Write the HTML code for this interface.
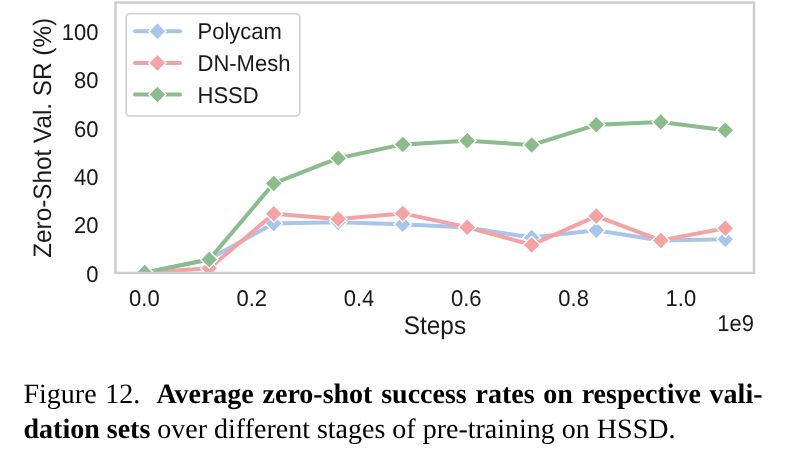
<!DOCTYPE html>
<html><head><meta charset="utf-8"><style>
html,body{margin:0;padding:0;background:#fff;width:787px;height:450px;overflow:hidden}
body{will-change:transform}
svg{display:block;position:absolute;left:0;top:0}
.s{font-family:"Liberation Sans",sans-serif;fill:#1a1a1a;text-rendering:geometricPrecision}
.cap{position:absolute;left:23.5px;top:377px;width:739px;font-family:"Liberation Serif",serif;font-size:28px;line-height:35px;color:#000;text-align:justify;text-align-last:left;margin:0;text-rendering:geometricPrecision}
</style></head><body>
<svg width="787" height="450" viewBox="0 0 787 450">
<defs><clipPath id="ax"><rect x="115.5" y="2.5" width="638.5" height="270.4"/></clipPath></defs>
<g clip-path="url(#ax)">
<polyline points="144.70,272.60 209.21,259.10 273.72,223.40 338.23,222.30 402.74,224.20 467.25,227.60 531.76,237.50 596.27,230.20 660.78,240.50 725.29,239.20" fill="none" stroke="#a8c5ea" stroke-width="4.0" stroke-linejoin="round" stroke-linecap="round"/>
<path d="M144.70 263.90L153.40 272.60L144.70 281.30L136.00 272.60Z" fill="#a8c5ea" stroke="#fff" stroke-width="1.3"/>
<path d="M209.21 250.40L217.91 259.10L209.21 267.80L200.51 259.10Z" fill="#a8c5ea" stroke="#fff" stroke-width="1.3"/>
<path d="M273.72 214.70L282.42 223.40L273.72 232.10L265.02 223.40Z" fill="#a8c5ea" stroke="#fff" stroke-width="1.3"/>
<path d="M338.23 213.60L346.93 222.30L338.23 231.00L329.53 222.30Z" fill="#a8c5ea" stroke="#fff" stroke-width="1.3"/>
<path d="M402.74 215.50L411.44 224.20L402.74 232.90L394.04 224.20Z" fill="#a8c5ea" stroke="#fff" stroke-width="1.3"/>
<path d="M467.25 218.90L475.95 227.60L467.25 236.30L458.55 227.60Z" fill="#a8c5ea" stroke="#fff" stroke-width="1.3"/>
<path d="M531.76 228.80L540.46 237.50L531.76 246.20L523.06 237.50Z" fill="#a8c5ea" stroke="#fff" stroke-width="1.3"/>
<path d="M596.27 221.50L604.97 230.20L596.27 238.90L587.57 230.20Z" fill="#a8c5ea" stroke="#fff" stroke-width="1.3"/>
<path d="M660.78 231.80L669.48 240.50L660.78 249.20L652.08 240.50Z" fill="#a8c5ea" stroke="#fff" stroke-width="1.3"/>
<path d="M725.29 230.50L733.99 239.20L725.29 247.90L716.59 239.20Z" fill="#a8c5ea" stroke="#fff" stroke-width="1.3"/>
<polyline points="144.70,272.60 209.21,268.30 273.72,213.80 338.23,218.90 402.74,213.40 467.25,227.20 531.76,244.90 596.27,216.10 660.78,240.40 725.29,228.30" fill="none" stroke="#f3a3a4" stroke-width="4.0" stroke-linejoin="round" stroke-linecap="round"/>
<path d="M144.70 263.90L153.40 272.60L144.70 281.30L136.00 272.60Z" fill="#f3a3a4" stroke="#fff" stroke-width="1.3"/>
<path d="M209.21 259.60L217.91 268.30L209.21 277.00L200.51 268.30Z" fill="#f3a3a4" stroke="#fff" stroke-width="1.3"/>
<path d="M273.72 205.10L282.42 213.80L273.72 222.50L265.02 213.80Z" fill="#f3a3a4" stroke="#fff" stroke-width="1.3"/>
<path d="M338.23 210.20L346.93 218.90L338.23 227.60L329.53 218.90Z" fill="#f3a3a4" stroke="#fff" stroke-width="1.3"/>
<path d="M402.74 204.70L411.44 213.40L402.74 222.10L394.04 213.40Z" fill="#f3a3a4" stroke="#fff" stroke-width="1.3"/>
<path d="M467.25 218.50L475.95 227.20L467.25 235.90L458.55 227.20Z" fill="#f3a3a4" stroke="#fff" stroke-width="1.3"/>
<path d="M531.76 236.20L540.46 244.90L531.76 253.60L523.06 244.90Z" fill="#f3a3a4" stroke="#fff" stroke-width="1.3"/>
<path d="M596.27 207.40L604.97 216.10L596.27 224.80L587.57 216.10Z" fill="#f3a3a4" stroke="#fff" stroke-width="1.3"/>
<path d="M660.78 231.70L669.48 240.40L660.78 249.10L652.08 240.40Z" fill="#f3a3a4" stroke="#fff" stroke-width="1.3"/>
<path d="M725.29 219.60L733.99 228.30L725.29 237.00L716.59 228.30Z" fill="#f3a3a4" stroke="#fff" stroke-width="1.3"/>
<polyline points="144.70,272.60 209.21,259.50 273.72,183.40 338.23,158.20 402.74,144.40 467.25,140.70 531.76,145.00 596.27,124.80 660.78,122.00 725.29,130.20" fill="none" stroke="#8cbc8d" stroke-width="4.0" stroke-linejoin="round" stroke-linecap="round"/>
<path d="M144.70 263.90L153.40 272.60L144.70 281.30L136.00 272.60Z" fill="#8cbc8d" stroke="#fff" stroke-width="1.3"/>
<path d="M209.21 250.80L217.91 259.50L209.21 268.20L200.51 259.50Z" fill="#8cbc8d" stroke="#fff" stroke-width="1.3"/>
<path d="M273.72 174.70L282.42 183.40L273.72 192.10L265.02 183.40Z" fill="#8cbc8d" stroke="#fff" stroke-width="1.3"/>
<path d="M338.23 149.50L346.93 158.20L338.23 166.90L329.53 158.20Z" fill="#8cbc8d" stroke="#fff" stroke-width="1.3"/>
<path d="M402.74 135.70L411.44 144.40L402.74 153.10L394.04 144.40Z" fill="#8cbc8d" stroke="#fff" stroke-width="1.3"/>
<path d="M467.25 132.00L475.95 140.70L467.25 149.40L458.55 140.70Z" fill="#8cbc8d" stroke="#fff" stroke-width="1.3"/>
<path d="M531.76 136.30L540.46 145.00L531.76 153.70L523.06 145.00Z" fill="#8cbc8d" stroke="#fff" stroke-width="1.3"/>
<path d="M596.27 116.10L604.97 124.80L596.27 133.50L587.57 124.80Z" fill="#8cbc8d" stroke="#fff" stroke-width="1.3"/>
<path d="M660.78 113.30L669.48 122.00L660.78 130.70L652.08 122.00Z" fill="#8cbc8d" stroke="#fff" stroke-width="1.3"/>
<path d="M725.29 121.50L733.99 130.20L725.29 138.90L716.59 130.20Z" fill="#8cbc8d" stroke="#fff" stroke-width="1.3"/>
</g>
<rect x="115.5" y="2.5" width="638.5" height="270.4" fill="none" stroke="#cccccc" stroke-width="2.4"/>
<rect x="126.2" y="13.7" width="173.6" height="102.1" rx="3.5" fill="#fff" fill-opacity="0.8" stroke="#d4d4d4" stroke-width="1.8"/>
<line x1="135" y1="31.3" x2="180" y2="31.3" stroke="#a8c5ea" stroke-width="4.0" stroke-linecap="round"/>
<path d="M157.40 22.60L166.10 31.30L157.40 40.00L148.70 31.30Z" fill="#a8c5ea" stroke="#fff" stroke-width="1.3"/>
<line x1="135" y1="62.900000000000006" x2="180" y2="62.900000000000006" stroke="#f3a3a4" stroke-width="4.0" stroke-linecap="round"/>
<path d="M157.40 54.20L166.10 62.90L157.40 71.60L148.70 62.90Z" fill="#f3a3a4" stroke="#fff" stroke-width="1.3"/>
<line x1="135" y1="94.5" x2="180" y2="94.5" stroke="#8cbc8d" stroke-width="4.0" stroke-linecap="round"/>
<path d="M157.40 85.80L166.10 94.50L157.40 103.20L148.70 94.50Z" fill="#8cbc8d" stroke="#fff" stroke-width="1.3"/>
<g class="s">
<text transform="translate(98.40,281.50) scale(1,1.04)" font-size="22" text-anchor="end">0</text>
<text transform="translate(98.40,233.20) scale(1,1.04)" font-size="22" text-anchor="end">20</text>
<text transform="translate(98.40,184.90) scale(1,1.04)" font-size="22" text-anchor="end">40</text>
<text transform="translate(98.40,136.60) scale(1,1.04)" font-size="22" text-anchor="end">60</text>
<text transform="translate(98.40,88.30) scale(1,1.04)" font-size="22" text-anchor="end">80</text>
<text transform="translate(98.40,40.00) scale(1,1.04)" font-size="22" text-anchor="end">100</text>
<text transform="translate(144.40,306.20) scale(1,1.04)" font-size="22" text-anchor="middle">0.0</text>
<text transform="translate(251.70,306.20) scale(1,1.04)" font-size="22" text-anchor="middle">0.2</text>
<text transform="translate(359.00,306.20) scale(1,1.04)" font-size="22" text-anchor="middle">0.4</text>
<text transform="translate(466.30,306.20) scale(1,1.04)" font-size="22" text-anchor="middle">0.6</text>
<text transform="translate(573.60,306.20) scale(1,1.04)" font-size="22" text-anchor="middle">0.8</text>
<text transform="translate(680.90,306.20) scale(1,1.04)" font-size="22" text-anchor="middle">1.0</text>
<text transform="translate(754.00,330.60) scale(1,1.04)" font-size="22" text-anchor="end">1e9</text>
<text transform="translate(434.90,334.00) scale(1,1.04)" font-size="24.4" text-anchor="middle">Steps</text>
<text transform="translate(50.50,137.80) rotate(-90) scale(1,1.04)" font-size="24.3" text-anchor="middle">Zero-Shot Val. SR (%)</text>
<text transform="translate(197.50,39.40) scale(1,1.04)" font-size="22">Polycam</text>
<text transform="translate(197.50,71.00) scale(1,1.04)" font-size="22">DN-Mesh</text>
<text transform="translate(197.50,102.60) scale(1,1.04)" font-size="22">HSSD</text>
</g>
</svg>
<p class="cap">Figure 12.&nbsp; <b style="margin-left:-1.5px">Average zero-shot success rates on respective vali- dation sets</b> over different stages of pre-training on HSSD.</p>
</body></html>
